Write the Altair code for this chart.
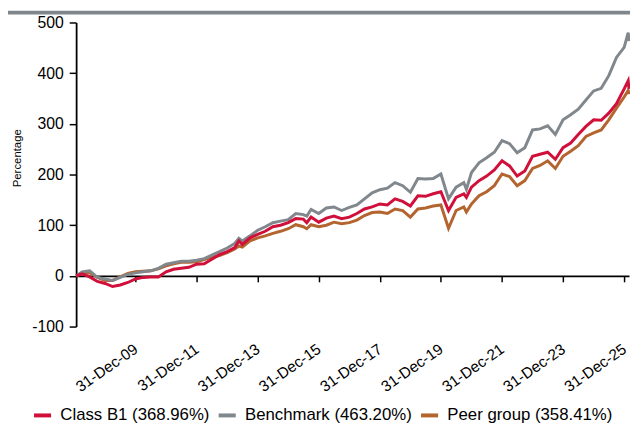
import altair as alt
import pandas as pd

# ---- data ----
dates = [
    "2008-01-20", "2008-03-31", "2008-06-30", "2008-09-30", "2008-12-31",
    "2009-03-31", "2009-06-30", "2009-09-30", "2009-12-31",
    "2010-03-31", "2010-06-30", "2010-09-30", "2010-12-31",
    "2011-03-31", "2011-06-30", "2011-09-30", "2011-12-31",
    "2012-03-31", "2012-06-30", "2012-09-30", "2012-12-31",
    "2013-03-31", "2013-05-20", "2013-06-30", "2013-09-30", "2013-12-31",
    "2014-03-31", "2014-06-30", "2014-09-30", "2014-12-31",
    "2015-03-31", "2015-06-30", "2015-08-10", "2015-09-30", "2015-12-31",
    "2016-03-31", "2016-06-30", "2016-09-30", "2016-12-31",
    "2017-03-31", "2017-06-30", "2017-09-30", "2017-12-31",
    "2018-03-31", "2018-06-30", "2018-09-30", "2018-12-31",
    "2019-03-31", "2019-06-30", "2019-09-30", "2019-12-31",
    "2020-03-31", "2020-06-30", "2020-09-30", "2020-10-31", "2020-12-31",
    "2021-03-31", "2021-06-30", "2021-09-30", "2021-12-31",
    "2022-03-31", "2022-06-30", "2022-09-30", "2022-12-31",
    "2023-03-31", "2023-06-30", "2023-09-30", "2023-12-31",
    "2024-03-31", "2024-06-30", "2024-09-30", "2024-12-31",
    "2025-03-31", "2025-06-30", "2025-09-30", "2025-12-31",
    "2026-02-17", "2026-02-27",
]

class_b1 = [
    0, 4, -2, -11, -15,
    -21, -18, -13, -6,
    -3, -2, -2, 8,
    13, 15, 17, 23,
    24, 33, 42, 48,
    56, 69, 62, 75, 82,
    88, 97, 100, 105,
    113, 112, 105, 116, 106,
    114, 118, 113, 116,
    123, 132, 136, 142,
    140, 152, 147, 138,
    158, 157, 162, 166,
    129, 155, 162, 155, 175,
    188, 197, 209, 227,
    217, 197, 207, 236,
    240, 244, 230, 253,
    262, 279, 295, 308,
    307, 321, 340, 369,
    385, 368.96,
]

benchmark = [
    0, 8, 10, -3, -6,
    -9, -3, 3, 6,
    8, 10, 15, 23,
    26, 29, 29, 31,
    34, 41, 48, 55,
    64, 74, 69, 79, 90,
    97, 105, 108, 111,
    123, 121, 118, 131, 123,
    134, 136, 129, 135,
    140, 152, 164, 170,
    173, 184, 178, 165,
    192, 191, 192, 201,
    152, 175, 184, 171, 204,
    223, 233, 244, 267,
    261, 243, 253, 288,
    290, 296, 279, 308,
    318, 329, 347, 365,
    370, 395, 431, 451,
    480, 463.20,
]

peer_group = [
    0, 5, 6, -3, -9,
    -9, -2, 5, 8,
    9, 10, 14, 20,
    24, 27, 27, 28,
    32, 37, 40, 46,
    53, 59, 57, 69, 75,
    79, 84, 88, 93,
    101, 97, 93, 101, 97,
    100, 106, 103, 105,
    110, 119, 125, 126,
    123, 132, 129, 116,
    132, 134, 138, 140,
    94, 129, 136, 126, 142,
    158, 166, 178, 201,
    196, 178, 188, 212,
    218, 227, 212, 236,
    246, 257, 275, 282,
    288, 308, 331, 353,
    366, 358.41,
]

series_names = ["Class B1 (368.96%)", "Benchmark (463.20%)", "Peer group (358.41%)"]
series_colors = ["#d0103a", "#80878d", "#b4652f"]
tick_years = [2009, 2011, 2013, 2015, 2017, 2019, 2021, 2023, 2025]
y_ticks = [-100, 0, 100, 200, 300, 400, 500]

# ---- layout ----
W, H = 560, 308
Y_MIN, Y_MAX = -100, 500
zero_offset = -H * (0 - Y_MIN) / (Y_MAX - Y_MIN)

rows = []
for name, vals in zip(series_names, [class_b1, benchmark, peer_group]):
    for d, v in zip(dates, vals):
        rows.append({"date": d, "value": v, "series": name})
df = pd.DataFrame(rows)

color = alt.Color(
    "series:N",
    scale=alt.Scale(domain=series_names, range=series_colors),
    legend=alt.Legend(
        orient="none", legendX=-45, legendY=387, direction="horizontal",
        title=None, symbolType="stroke", symbolStrokeWidth=4, symbolSize=300,
        labelFontSize=17, labelOffset=7, columnPadding=0, labelLimit=400,
        labelColor="black",
    ),
)

x = alt.X(
    "date:T",
    scale=alt.Scale(domain=[alt.DateTime(year=2008, month=1, date=20),
                            alt.DateTime(year=2026, month=2, date=27)]),
    axis=alt.Axis(
        values=[alt.DateTime(year=yr, month=12, date=31) for yr in tick_years],
        format="%d-%b-%y", labelAngle=-35, labelAlign="right", labelBaseline="middle",
        labelPadding=66, offset=zero_offset, tickSize=6, tickWidth=1.5,
        tickColor="black", domainColor="black", domainWidth=1.8,
        labelFontSize=15.5, labelColor="black", grid=False, labelOverlap=False,
        title=None,
    ),
)

y = alt.Y(
    "value:Q",
    scale=alt.Scale(domain=[Y_MIN, Y_MAX], nice=False),
    axis=alt.Axis(
        values=y_ticks, labelExpr="'' + datum.value", tickSize=7, tickWidth=1.5,
        tickColor="black", domainColor="black", domainWidth=1.8, labelPadding=6,
        labelFontSize=16, labelColor="black", grid=False,
        title="Percentage", titleFontSize=11.5, titleFontWeight="normal",
        titleX=-59, titleY=137, titleAlign="center", titleBaseline="middle",
        titleColor="black",
    ),
)

base = alt.Chart(df)
layers = []
for name in reversed(series_names):
    layers.append(
        base.transform_filter(alt.datum.series == name)
        .mark_line(strokeWidth=3)
        .encode(x=x, y=y, color=color)
    )

top_bar = alt.Chart(pd.DataFrame({"a": [0]})).mark_rule(
    color="#7f868c", strokeWidth=4
).encode(x=alt.value(-69), x2=alt.value(W + 1), y=alt.value(-10))

chart = (
    alt.layer(top_bar, *layers)
    .properties(
        width=W, height=H,
        autosize=alt.AutoSizeParams(type="none"),
        padding={"left": 69, "top": 12, "right": 1, "bottom": 95},
    )
    .configure(font="Liberation Sans")
    .configure_view(stroke="transparent")
)

chart.save("out.html", embed_options={"renderer": "svg", "actions": False})
